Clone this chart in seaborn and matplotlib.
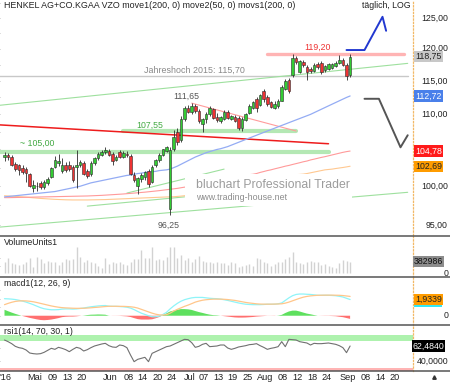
import numpy as np
import pandas as pd
import matplotlib
matplotlib.use("Agg")
import matplotlib.pyplot as plt
import matplotlib.transforms as mtransforms
import seaborn as sns
from matplotlib.patches import Rectangle
from matplotlib.lines import Line2D
from matplotlib.ticker import FixedLocator, NullFormatter, NullLocator

# ---------------- data ----------------
first_day, last_day = "2016-04-20", "2016-09-02"
holiday = "2016-05-16"

opens = [104.0,104.2,104.0,103.0,102.8,102.5,102.3,101.6,99.8,100.1,
         100.4,99.9,100.4,101.3,102.6,103.2,102.1,102.9,102.9,102.6,
         102.6,102.9,103.1,102.0,101.6,103.1,103.8,104.3,104.7,
         104.8,104.4,103.6,104.6,104.0,104.4,104.1,101.5,100.0,101.0,
         101.3,102.1,100.6,102.8,103.5,104.3,104.8,97.0,105.0,107.5,
         106.3,109.4,111.0,110.4,111.3,110.5,108.6,109.3,110.0,110.8,
         109.6,109.0,109.4,110.4,109.4,109.6,109.5,108.0,109.2,110.2,
         111.0,112.3,111.4,113.5,112.6,111.8,111.0,111.2,112.0,113.8,
         115.1,115.9,118.5,116.4,117.9,117.1,116.9,116.5,117.6,117.8,
         116.6,116.9,117.0,117.3,117.8,118.2,117.4,115.9]
highs = [104.6,104.5,104.3,103.3,103.0,102.8,102.6,101.8,100.8,100.6,
         100.7,100.9,101.2,102.6,104.1,104.4,103.8,103.3,103.4,102.9,
         104.9,103.6,103.4,102.3,103.4,104.0,104.6,104.9,105.4,
         105.1,104.7,104.3,104.9,104.8,104.8,104.4,101.9,101.3,101.8,
         102.1,102.3,102.8,103.7,104.5,105.1,105.5,105.4,107.8,108.0,
         109.8,111.2,111.4,111.65,111.5,110.8,109.5,110.3,111.2,111.0,
         110.2,109.8,110.6,110.6,109.9,109.9,109.7,109.6,110.2,111.5,
         112.0,112.6,113.0,113.8,112.9,112.0,111.9,112.3,114.3,115.3,
         115.4,119.2,118.9,118.3,118.2,117.4,117.2,117.7,117.9,118.0,
         117.5,117.8,117.8,118.0,119.0,118.5,117.7,119.2]
lows = [103.4,103.6,102.7,102.1,101.5,101.7,100.6,99.9,99.3,99.4,
        99.6,99.7,100.2,101.1,102.4,102.7,101.8,101.9,102.0,100.5,
        99.8,102.6,101.5,101.1,101.4,102.9,103.6,104.1,104.4,
        104.1,102.9,103.4,103.8,103.8,104.0,101.5,100.6,99.0,100.6,
        100.8,99.9,100.4,102.6,103.3,104.1,104.6,96.25,104.8,105.6,
        106.0,109.0,110.2,110.0,110.2,108.8,107.5,108.8,109.8,109.3,
        108.9,108.8,109.2,109.3,109.2,108.9,107.7,107.6,109.0,110.0,
        110.8,110.4,111.2,111.8,111.2,110.9,110.8,111.0,111.9,113.6,
        113.2,115.6,117.6,116.2,117.2,115.2,116.2,116.3,116.9,116.0,
        116.4,116.7,116.8,117.1,117.6,117.3,115.2,115.6]
closes = [104.2,103.9,102.9,102.3,102.2,101.9,101.8,100.1,100.2,100.0,
          99.9,100.6,101.0,102.4,103.5,103.4,102.8,102.2,102.3,100.8,
          102.9,103.3,101.7,101.4,103.2,103.8,104.4,104.7,104.9,
          104.3,103.4,104.0,104.0,104.5,104.3,101.7,100.8,101.1,101.5,
          101.9,100.3,102.6,103.5,104.3,105.0,105.3,104.9,106.8,106.0,
          109.4,111.0,110.4,111.3,110.5,109.1,109.3,110.0,110.9,109.5,
          109.2,109.6,110.4,109.5,109.7,109.1,108.0,109.4,110.0,111.2,
          111.8,110.9,112.8,112.2,111.6,111.1,111.6,112.0,114.1,115.0,
          113.4,118.6,117.9,118.0,117.5,116.4,116.5,117.5,117.2,116.3,
          117.3,117.6,117.6,117.8,118.3,117.5,115.8,118.75]
volume_k = [378,489,322,289,267,289,378,511,211,544,
            467,322,400,356,378,267,378,467,433,467,
            878,544,378,433,356,322,244,156,511,289,
            356,322,356,300,267,378,467,467,767,511,
            489,856,433,467,433,544,867,867,489,600,
            433,511,378,467,578,400,356,378,322,356,
            322,322,267,356,322,211,244,267,289,244,
            489,467,378,322,244,289,356,378,467,544,
            711,378,322,289,356,400,378,356,267,289,
            244,211,156,322,433,400,383]
ma50 = [98.6,98.65,98.7,98.75,98.8,98.85,98.9,98.95,99.0,99.05,
        99.1,99.15,99.2,99.25,99.3,99.4,99.5,99.6,99.7,99.8,
        99.9,100.0,100.15,100.3,100.45,100.55,100.65,100.75,100.85,100.95,
        101.05,101.15,101.25,101.35,101.45,101.5,101.6,101.7,101.75,101.85,
        101.9,101.95,102.0,102.1,102.15,102.2,102.3,102.5,102.7,102.95,
        103.2,103.45,103.7,103.95,104.15,104.35,104.55,104.7,104.85,105.0,
        105.1,105.25,105.4,105.6,105.8,106.0,106.2,106.4,106.6,106.8,
        107.0,107.2,107.4,107.6,107.8,108.0,108.2,108.4,108.6,108.8,
        109.0,109.2,109.4,109.6,109.8,110.0,110.25,110.5,110.75,111.0,
        111.25,111.5,111.75,112.0,112.25,112.5,112.72]
ma200 = [98.5,98.5,98.51,98.52,98.53,98.54,98.55,98.56,98.57,98.58,
         98.59,98.6,98.61,98.62,98.63,98.64,98.65,98.66,98.67,98.68,
         98.69,98.7,98.71,98.72,98.74,98.76,98.78,98.8,98.83,98.86,
         98.89,98.92,98.95,98.98,99.02,99.06,99.1,99.14,99.18,99.22,
         99.27,99.32,99.37,99.42,99.48,99.54,99.6,99.66,99.72,99.8,
         99.88,99.97,100.06,100.15,100.25,100.35,100.45,100.55,100.65,100.75,
         100.85,100.95,101.05,101.15,101.25,101.35,101.42,101.5,101.55,101.6,
         101.7,101.85,101.97,102.1,102.2,102.33,102.45,102.57,102.7,102.8,
         102.93,103.05,103.17,103.3,103.4,103.55,103.66,103.78,103.9,104.0,
         104.12,104.24,104.36,104.48,104.6,104.7,104.78]
ma200s = [98.75,98.72,98.69,98.66,98.63,98.6,98.56,98.52,98.48,98.44,
          98.4,98.37,98.34,98.31,98.28,98.26,98.24,98.22,98.21,98.2,
          98.2,98.2,98.2,98.2,98.21,98.22,98.23,98.24,98.25,98.27,
          98.29,98.31,98.33,98.35,98.37,98.39,98.41,98.43,98.45,98.47,
          98.49,98.51,98.53,98.55,98.57,98.59,98.6,98.62,98.66,98.7,
          98.75,98.85,98.98,99.1,99.25,99.4,99.55,99.7,99.85,100.0,
          100.1,100.2,100.3,100.4,100.5,100.6,100.7,100.8,100.9,101.0,
          101.05,101.1,101.15,101.2,101.25,101.3,101.35,101.4,101.45,101.5,
          101.52,101.55,101.58,101.62,101.7,101.8,101.9,102.0,102.1,102.2,
          102.25,102.3,102.38,102.45,102.52,102.6,102.69]
macd_line = [2.0,1.98,1.95,1.9,1.82,1.72,1.6,1.45,1.3,1.12,
             0.95,0.82,0.75,0.7,0.7,0.72,0.78,0.8,0.8,0.78,
             0.8,0.85,0.9,0.98,1.05,1.1,1.15,1.18,1.2,
             1.12,1.1,1.1,1.08,1.05,1.0,0.9,0.72,0.5,0.3,
             0.15,0.0,-0.12,-0.12,-0.05,0.15,0.4,0.8,1.15,1.45,
             1.7,1.88,2.0,2.1,2.15,2.15,2.15,2.1,2.05,2.02,
             2.0,1.95,1.88,1.8,1.7,1.6,1.5,1.42,1.35,1.32,
             1.3,1.3,1.3,1.32,1.35,1.35,1.35,1.4,1.5,1.8,
             2.1,2.35,2.5,2.55,2.55,2.52,2.5,2.45,2.4,2.4,
             2.4,2.4,2.38,2.35,2.28,2.2,2.05,1.9]
macd_signal = [1.3,1.45,1.58,1.68,1.73,1.75,1.74,1.7,1.64,1.55,
               1.45,1.35,1.25,1.15,1.07,1.0,0.95,0.92,0.9,0.88,
               0.87,0.87,0.88,0.9,0.93,0.97,1.0,1.04,1.08,
               1.11,1.11,1.11,1.1,1.1,1.08,1.05,1.0,0.9,0.75,
               0.6,0.45,0.3,0.18,0.1,0.08,0.12,0.3,0.55,0.75,
               0.92,1.1,1.25,1.42,1.6,1.72,1.82,1.88,1.92,1.95,
               1.95,1.95,1.93,1.9,1.85,1.8,1.72,1.64,1.56,1.5,
               1.45,1.4,1.37,1.36,1.36,1.36,1.37,1.38,1.4,1.48,
               1.6,1.75,1.9,2.05,2.18,2.27,2.33,2.37,2.4,2.41,
               2.42,2.42,2.42,2.41,2.4,2.37,2.32,2.27]
rsi = [71.5,69,66,62,60,59,56.5,52,51,50.5,
       51,53,56,59,57.5,60.5,59,57,54,57.5,
       60.5,59,55,57,60,62.5,64,65.5,66.5,
       63,61,60.5,64,63,60,49,39,42.5,44,
       45.5,39,51.5,54,56.5,59,61.5,62.5,65,67.5,
       70,72.5,72,67.5,60.5,62,65,66.5,61.5,62,
       62.5,64,64,59.5,57.5,59,61,62,63,64.5,
       65,66,63,60.5,57.5,59,60,61.5,69,61.5,
       72.5,72,71.5,69,68,67,64,66.5,66,66,
       66.5,67,66,65,63,60,52.5,62.48]

# visible right-hand tick labels (the ones not covered by the value boxes)
price_ticks = [95, 100, 110, 115, 120, 125]
price_tick_labels = ["95,00", "100,00", "110,00", "115,00", "120,00", "125,00"]
price_minor = [95, 97.5, 100, 102.5, 105, 107.5, 110, 112.5, 115, 117.5, 120, 122.5, 125, 127.5]
date_ticks = ["2016-04-20", "2016-05-02", "2016-05-09", "2016-05-13", "2016-05-20",
              "2016-06-01", "2016-06-08", "2016-06-14", "2016-06-20", "2016-06-24",
              "2016-07-01", "2016-07-07", "2016-07-13", "2016-07-19", "2016-07-25",
              "2016-08-01", "2016-08-08", "2016-08-12", "2016-08-18", "2016-08-24",
              "2016-09-01", "2016-09-08", "2016-09-14", "2016-09-20"]
date_tick_labels = ["'16", "Mai", "09", "13", "20", "Jun", "08", "14", "20", "24",
                    "Jul", "07", "13", "19", "25", "Aug", "08", "12", "18", "24",
                    "Sep", "08", "14", "20"]

# drawn lines: (start date, start price, end date, end price)
channel_upper = ("2016-04-18", 111.3, "2016-09-26", 117.7)
channel_lower = ("2016-04-18", 94.7, "2016-09-26", 99.2)
trend_green_b = ("2016-06-08", 99.1, "2016-07-15", 102.3)
trend_green_c = ("2016-05-24", 97.4, "2016-06-30", 98.6)
resistance_red = ("2016-04-18", 108.5, "2016-08-25", 105.8)
triangle_top = ("2016-07-04", 111.65, "2016-08-12", 107.6)
jahreshoch = ("2016-04-18", 115.70, "2016-09-26", 115.70)
band_105 = ("2016-04-18", 104.7, "2016-08-25", 104.7)
band_107 = ("2016-06-07", 107.55, "2016-08-12", 107.55)
band_119 = ("2016-08-02", 119.20, "2016-09-23", 119.20)
proj_up_dates = ["2016-09-01", "2016-09-08", "2016-09-15", "2016-09-16"]
proj_up_prices = [119.8, 119.8, 125.2, 122.9]
proj_dn_dates = ["2016-09-08", "2016-09-14", "2016-09-22", "2016-09-26"]
proj_dn_prices = [112.3, 112.3, 105.3, 107.0]

# ---------------- setup ----------------
sns.set_theme(style="white")
plt.rcParams["font.family"] = ["Liberation Sans", "DejaVu Sans"]

cal = pd.bdate_range("2016-04-01", "2016-10-31")
cal = cal[cal != pd.Timestamp(holiday)]
origin = cal.get_loc(pd.Timestamp(first_day))


def pos(d):
    return cal.get_loc(pd.Timestamp(d)) - origin


n = len(closes)
assert pos(last_day) == n - 1
xs = np.arange(n)

W, H = 450, 383
fig = plt.figure(figsize=(4.5, 3.83), dpi=100)
AXW = 413 / W


def rect(top, bottom):
    return [0, 1 - bottom / H, AXW, (bottom - top) / H]


ax = fig.add_axes(rect(0, 235))
axv = fig.add_axes(rect(235, 277), sharex=ax)
axm = fig.add_axes(rect(277, 325), sharex=ax)
axr = fig.add_axes(rect(325, 371), sharex=ax)
ax.set_xlim(-1.25, 113.47)

TXT = "#222222"
FS = 6.3
RX = 448 / 413


def style(a):
    for s in ("top", "bottom", "left"):
        a.spines[s].set_visible(False)
    a.spines["right"].set_visible(True)
    a.spines["right"].set_color("#f2b866")
    a.spines["right"].set_linestyle(":")
    a.spines["right"].set_linewidth(0.9)
    a.grid(False)
    a.set_facecolor("white")
    a.tick_params(axis="x", which="both", length=0, labelbottom=False)
    a.tick_params(axis="y", which="both", left=True, right=False, labelleft=False,
                  labelright=False, length=3, width=0.6, color="#b0b0b0")


for a in (ax, axv, axm, axr):
    style(a)


def right_label(a, val, txt):
    a.text(RX, val, txt, transform=a.get_yaxis_transform(), ha="right", va="center",
           fontsize=FS, color=TXT, clip_on=False, zorder=8)


def value_box(a, val, txt, fc, tc, z=10):
    a.text(428.5 / 413, val, txt, transform=a.get_yaxis_transform(), ha="center",
           va="center", fontsize=FS, color=tc, clip_on=False, zorder=z,
           bbox=dict(boxstyle="square,pad=0.12", fc=fc, ec="none"))


def seg(a, spec, **kw):
    d0, p0, d1, p1 = spec
    sns.lineplot(x=[pos(d0), pos(d1)], y=[p0, p1], ax=a, **kw)


# ---------------- main price panel ----------------
ax.set_yscale("log")
ax.set_ylim(93.74, 128.02)
ax.yaxis.set_major_locator(FixedLocator(price_minor))
ax.yaxis.set_major_formatter(NullFormatter())
ax.yaxis.set_minor_locator(NullLocator())
ax.yaxis.set_minor_formatter(NullFormatter())

seg(ax, jahreshoch, color="#c8c8c8", lw=1.0, zorder=2)
seg(ax, band_105, color="#b4e8b4", lw=3.0, zorder=2)
seg(ax, band_107, color="#b4e8b4", lw=3.0, zorder=2)
seg(ax, band_119, color="#ffb4b4", lw=2.4, zorder=2)
seg(ax, channel_upper, color="#9ee09e", lw=0.8, zorder=2)
seg(ax, channel_lower, color="#9ee09e", lw=0.8, zorder=2)
seg(ax, trend_green_b, color="#9ee09e", lw=0.8, zorder=2)
seg(ax, trend_green_c, color="#9ee09e", lw=0.8, zorder=2)
seg(ax, resistance_red, color="#ee1c1c", lw=1.1, zorder=3)
seg(ax, triangle_top, color="#ff9c9c", lw=0.8, zorder=3)
sns.lineplot(x=xs, y=ma200s, ax=ax, color="#ffc890", lw=0.8, zorder=2)
sns.lineplot(x=xs, y=ma200, ax=ax, color="#ff9a9a", lw=0.8, zorder=2)
sns.lineplot(x=xs, y=ma50, ax=ax, color="#94acf4", lw=0.9, zorder=3)

# watermark with white backing
ax.add_patch(Rectangle((185 / 413, (235 - 206) / 235), (352 - 185) / 413, 32 / 235,
                       transform=ax.transAxes, fc="white", ec="none", zorder=4))
ax.text(196 / 413, (235 - 185) / 235, "bluchart Professional Trader", transform=ax.transAxes,
        fontsize=8.8, color="#9c9c9c", ha="left", va="center", zorder=5)
ax.text(196 / 413, (235 - 197.5) / 235, "www.trading-house.net", transform=ax.transAxes,
        fontsize=6.4, color="#8c8c8c", ha="left", va="center", zorder=5)

# candles
UP, DN, EDGE = "#33cc33", "#ee3333", "#2b2b2b"
ax.vlines(xs, lows, highs, color=EDGE, lw=0.6, zorder=6)
for i in range(n):
    o, c = opens[i], closes[i]
    lo, hi = min(o, c), max(o, c)
    if hi - lo < 0.06:
        hi = lo + 0.06
    ax.add_patch(Rectangle((i - 0.36, lo), 0.72, hi - lo, fc=UP if c >= o else DN,
                           ec=EDGE, lw=0.4, zorder=7))

# projections
sns.lineplot(x=[pos(d) for d in proj_up_dates], y=proj_up_prices, ax=ax,
             color="#2238d0", lw=1.4, zorder=6)
sns.lineplot(x=[pos(d) for d in proj_dn_dates], y=proj_dn_prices, ax=ax,
             color="#555555", lw=1.4, zorder=6)

# texts
ax.text(4 / 413, (235 - 6) / 235, "HENKEL AG+CO.KGAA VZO move1(200, 0) move2(50, 0) movs1(200, 0)",
        transform=ax.transAxes, fontsize=6.4, color=TXT, ha="left", va="center")
ax.text(411 / 413, (235 - 6) / 235, "täglich, LOG", transform=ax.transAxes,
        fontsize=6.3, color=TXT, ha="right", va="center")
ax.text(194 / 413, (235 - 70) / 235, "Jahreshoch 2015: 115,70", transform=ax.transAxes,
        fontsize=6.4, color="#888888", ha="center", va="center")
ax.text(186.7 / 413, (235 - 96) / 235, "111,65", transform=ax.transAxes,
        fontsize=6.3, color="#555555", ha="center", va="center")
ax.text(317.5 / 413, (235 - 47) / 235, "119,20", transform=ax.transAxes,
        fontsize=6.3, color="#ee3333", ha="center", va="center")
ax.text(150 / 413, (235 - 125) / 235, "107,55", transform=ax.transAxes,
        fontsize=6.3, color="#44aa44", ha="center", va="center")
ax.text(37.5 / 413, (235 - 143.5) / 235, "~ 105,00", transform=ax.transAxes,
        fontsize=6.3, color="#44aa44", ha="center", va="center")
ax.text(168.5 / 413, (235 - 225.5) / 235, "96,25", transform=ax.transAxes,
        fontsize=6.3, color="#555555", ha="center", va="center")

for v, t in zip(price_ticks, price_tick_labels):
    right_label(ax, v, t)
value_box(ax, closes[-1], "118,75", "#c8c8c8", TXT)
value_box(ax, ma50[-1], "112,72", "#4a80ea", "white")
value_box(ax, ma200[-1], "104,78", "#ff1a1a", "white")
value_box(ax, ma200s[-1], "102,69", "#ff9c00", TXT)

# ---------------- volume ----------------
vol = np.array(volume_k) * 1000
axv.set_ylim(-133000, 1267000)
axv.vlines(xs, 0, vol, color="#d2d2d2", lw=1.0)
axv.set_yticks([250000, 500000])
axv.text(4 / 413, 0.81, "VolumeUnits1", transform=axv.transAxes, fontsize=FS,
         color=TXT, ha="left", va="center")
right_label(axv, 0, "0")
value_box(axv, vol[-1], "382986", "#8c8c8c", "#111111")

# ---------------- MACD ----------------
m = np.array(macd_line)
s = np.array(macd_signal)
hist = m - s
axm.set_ylim(-1.09, 4.55)
axm.fill_between(xs, 0, hist, where=hist >= 0, interpolate=True, color="#5ee05e", lw=0)
axm.fill_between(xs, 0, hist, where=hist <= 0, interpolate=True, color="#ff7070", lw=0)
sns.lineplot(x=xs, y=m, ax=axm, color="#8ff4f8", lw=0.9)
sns.lineplot(x=xs, y=s, ax=axm, color="#ffc68a", lw=0.9)
axm.set_yticks([0, 1, 2, 3])
axm.text(4 / 413, 0.86, "macd1(12, 26, 9)", transform=axm.transAxes, fontsize=FS,
         color=TXT, ha="left", va="center")
right_label(axm, 0, "0")
btr = mtransforms.blended_transform_factory(axm.transAxes, axm.transData)
axm.add_patch(Rectangle((414.5 / 413, 1.0), 28 / 413, 1.0, transform=btr, fc="#33e8f5",
                        ec="none", clip_on=False, zorder=9))
value_box(axm, 1.9339, "1,9339", "#ff9c00", TXT, z=10)

# ---------------- RSI ----------------
axr.set_ylim(25, 94)
axr.axhspan(70, 79.5, color="#aef2ae", lw=0, zorder=1)
axr.axhspan(20, 30, color="#ffb4b4", lw=0, zorder=1)
sns.lineplot(x=xs, y=rsi, ax=axr, color="#707070", lw=0.8, zorder=3)
axr.set_yticks([40, 60])
axr.text(4 / 413, 0.848, "rsi1(14, 70, 30, 1)", transform=axr.transAxes, fontsize=FS,
         color=TXT, ha="left", va="center")
right_label(axr, 40, "40,0000")
value_box(axr, rsi[-1], "62,4840", "#000000", "white")

# x axis labels (bottom)
axr.set_xticks([pos(d) + 0.4 for d in date_ticks])
axr.set_xticklabels(date_tick_labels)
axr.tick_params(axis="x", which="both", length=0, labelbottom=True, labelsize=6.6,
                labelcolor=TXT, pad=1.5)
for a in (ax, axv, axm):
    a.tick_params(axis="x", labelbottom=False)
    a.set_xlabel("")
for a in (ax, axv, axm, axr):
    a.set_ylabel("")
axr.set_xlabel("")
ax.set_xlim(-1.25, 113.47)

# panel separators
for y in (235.5, 277, 325, 371):
    fig.add_artist(Line2D([0, 1], [1 - y / H, 1 - y / H], transform=fig.transFigure,
                          color="#555555", lw=1.1))
fig.add_artist(Line2D([434 / W], [1 - 377 / H], transform=fig.transFigure, marker="^",
                      markersize=2.5, color="#333333", lw=0))

fig.savefig("out.png", dpi=100)
